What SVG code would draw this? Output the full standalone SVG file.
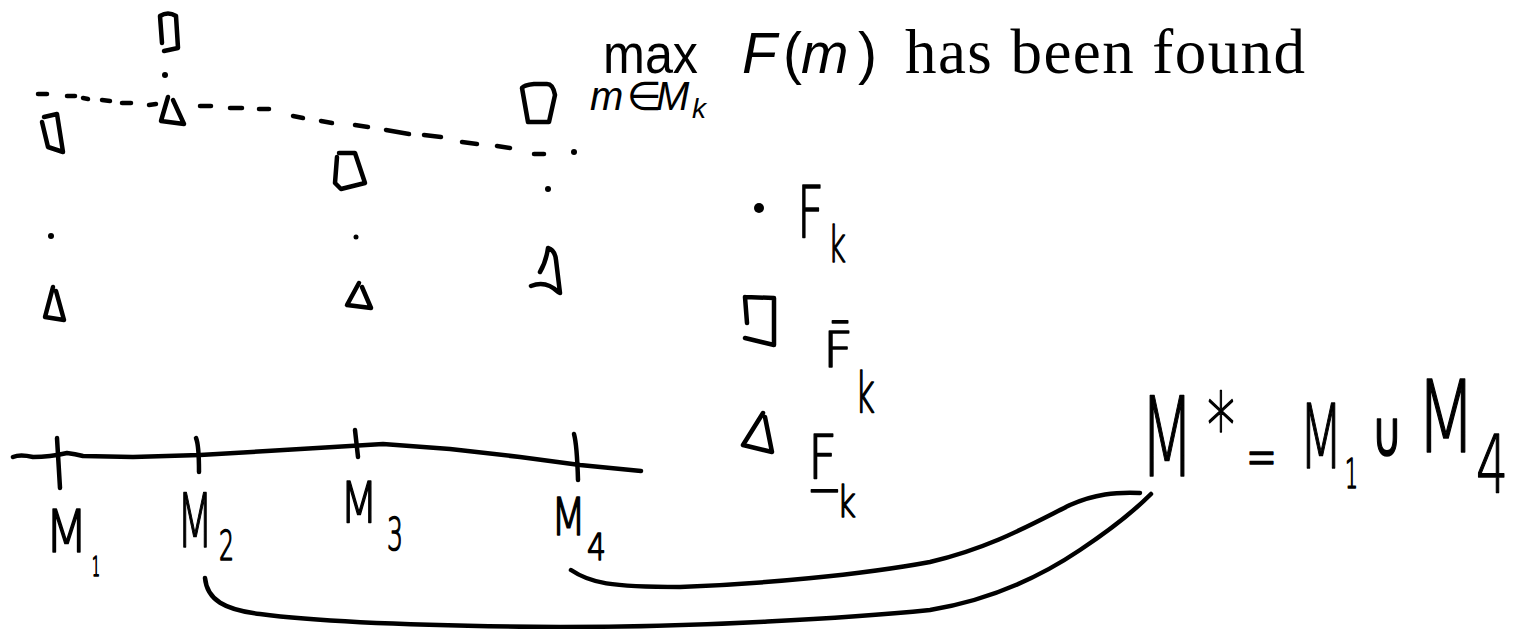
<svg xmlns="http://www.w3.org/2000/svg" width="1514" height="629" viewBox="0 0 1514 629">
<style>
.ink{fill:none;stroke:#000;stroke-width:4.5;stroke-linecap:round;stroke-linejoin:round}
.dot{fill:#000}
.hand{font-family:"DejaVu Sans","Liberation Sans",sans-serif;font-weight:200;fill:#000;stroke:#000;stroke-width:1.6;stroke-linejoin:round}
.sans{font-family:"Liberation Sans","DejaVu Sans",sans-serif;fill:#000}
.serif{font-family:"Liberation Serif","DejaVu Serif",serif;fill:#000}
.it{font-style:italic}
</style>
<rect width="1514" height="629" fill="#fff"/>

<g id="title">
  <text class="sans" x="603" y="73" font-size="55" textLength="95" lengthAdjust="spacingAndGlyphs">max</text>
  <text class="sans" y="73" font-size="57"><tspan class="it" x="742">F</tspan><tspan x="783">(</tspan><tspan class="it" x="801">m</tspan><tspan x="858">)</tspan></text>
  <text class="serif" x="905" y="73" font-size="63" textLength="400" lengthAdjust="spacing">has been found</text>
  <text class="sans" y="110" font-size="40"><tspan class="it" x="590">m</tspan><tspan x="627">∈</tspan><tspan class="it" x="656">M</tspan><tspan class="it" x="692" y="118" font-size="28">k</tspan></text>
</g>

<g id="search-line">
  <line class="ink" x1="38" y1="94" x2="47" y2="94"/>
  <line class="ink" x1="67" y1="96" x2="75" y2="96"/>
  <line class="ink" x1="83" y1="98" x2="88" y2="99"/>
  <line class="ink" x1="102" y1="100" x2="110" y2="101"/>
  <line class="ink" x1="122" y1="103" x2="131" y2="103"/>
  <line class="ink" x1="149" y1="105" x2="156" y2="104"/>
  <line class="ink" x1="200" y1="106" x2="211" y2="106"/>
  <line class="ink" x1="230" y1="108" x2="242" y2="108"/>
  <line class="ink" x1="259" y1="109" x2="269" y2="109"/>
  <line class="ink" x1="293" y1="116" x2="303" y2="118"/>
  <line class="ink" x1="321" y1="121" x2="332" y2="123"/>
  <line class="ink" x1="355" y1="125" x2="368" y2="127"/>
  <line class="ink" x1="386" y1="130" x2="409" y2="134"/>
  <line class="ink" x1="424" y1="135" x2="441" y2="137"/>
  <line class="ink" x1="462" y1="142" x2="477" y2="144"/>
  <line class="ink" x1="497" y1="146" x2="510" y2="148"/>
  <line class="ink" x1="534" y1="154" x2="544" y2="154"/>
  <circle class="dot" cx="574" cy="152" r="3"/>
</g>

<g id="point-m1">
  <path class="ink" d="M44,117 L57,114 L63,152 L48,147 L42,122"/>
  <circle class="dot" cx="51" cy="236" r="3"/>
  <path class="ink" d="M53,287 L45,317 L64,320 L56,291"/>
</g>

<g id="point-m2">
  <path class="ink" d="M162,43 L160,16 Q168,11 176,16 L178,48 L164,51"/>
  <circle class="dot" cx="165" cy="75" r="3"/>
  <path class="ink" d="M168,97 L161,121 L184,124 L173,100"/>
</g>

<g id="point-m3">
  <path class="ink" d="M339,153 L355,153 L365,183 L341,189 L335,183 L337,157"/>
  <circle class="dot" cx="356" cy="237" r="2.5"/>
  <path class="ink" d="M359,283 L347,305 L371,308 L362,287"/>
</g>

<g id="point-m4">
  <path class="ink" d="M522,88 L528,122 L549,122 L555,95 Q553,84 547,84 L534,84 Q524,85 522,88"/>
  <circle class="dot" cx="548" cy="189" r="3"/>
  <path class="ink" d="M540,272 Q546,262 548,248 Q555,250 556,260 L560,293 M531,286 Q546,280 558,292"/>
</g>

<g id="axis">
  <path class="ink" d="M13,457 Q20,454 33,457 Q50,457 67,453 Q75,454 83,456 L133,457 L200,455 L267,451 L317,448 L383,444 L450,449 L520,457 L580,465 L641,471"/>
  <line class="ink" x1="57" y1="438" x2="60" y2="488"/>
  <path class="ink" d="M196,438 Q199,445 199,472"/>
  <line class="ink" x1="355" y1="430" x2="358" y2="457"/>
  <path class="ink" d="M574,434 Q577,445 578,480"/>
</g>

<g id="label-m1">
  <text class="hand" x="45" y="552" font-size="58" textLength="43" lengthAdjust="spacingAndGlyphs">M</text>
  <text class="hand" x="92" y="576" font-size="26" textLength="8" lengthAdjust="spacingAndGlyphs">1</text>
</g>
<g id="label-m2">
  <text class="hand" x="177" y="547" font-size="74" textLength="36" lengthAdjust="spacingAndGlyphs">M</text>
  <text class="hand" x="219" y="560" font-size="40" textLength="15" lengthAdjust="spacingAndGlyphs">2</text>
</g>
<g id="label-m3">
  <text class="hand" x="340" y="523" font-size="57" textLength="38" lengthAdjust="spacingAndGlyphs">M</text>
  <text class="hand" x="387" y="550" font-size="44" textLength="16" lengthAdjust="spacingAndGlyphs">3</text>
</g>
<g id="label-m4">
  <text class="hand" x="551" y="535" font-size="51" textLength="35" lengthAdjust="spacingAndGlyphs">M</text>
  <text class="hand" x="587" y="560" font-size="38" textLength="19" lengthAdjust="spacingAndGlyphs">4</text>
</g>

<g id="legend-f">
  <circle class="dot" cx="759" cy="208" r="5"/>
  <text class="hand" x="797" y="237" font-size="72" textLength="27" lengthAdjust="spacingAndGlyphs">F</text>
  <text class="hand" x="828" y="262" font-size="50" textLength="18" lengthAdjust="spacingAndGlyphs">k</text>
</g>
<g id="legend-upper">
  <path class="ink" d="M745,297 L774,298 L774,345 L745,338 M745,297 L747,323"/>
  <text class="hand" x="823" y="367" font-size="50" textLength="30" lengthAdjust="spacingAndGlyphs">F̄</text>
  <text class="hand" x="855" y="412" font-size="55" textLength="20" lengthAdjust="spacingAndGlyphs">k</text>
</g>
<g id="legend-lower">
  <path class="ink" d="M763,413 L743,445 L772,452 L765,417"/>
  <text class="hand" x="808" y="478" font-size="60" textLength="29" lengthAdjust="spacingAndGlyphs">F̲</text>
  <text class="hand" x="837" y="517" font-size="42" textLength="19" lengthAdjust="spacingAndGlyphs">k</text>
</g>

<g id="result">
  <text class="hand" x="1140" y="476" font-size="110" textLength="54" lengthAdjust="spacingAndGlyphs">M</text>
  <text class="hand" x="1207" y="458" font-size="90" textLength="28" lengthAdjust="spacingAndGlyphs">*</text>
  <text class="hand" x="1246" y="477" font-size="60" textLength="31" lengthAdjust="spacingAndGlyphs">=</text>
  <text class="hand" x="1299" y="468" font-size="89" textLength="44" lengthAdjust="spacingAndGlyphs">M</text>
  <text class="hand" x="1345" y="488" font-size="40" textLength="13" lengthAdjust="spacingAndGlyphs">1</text>
  <text class="hand" x="1372" y="456" font-size="64" textLength="30" lengthAdjust="spacingAndGlyphs">∪</text>
  <text class="hand" x="1416" y="452" font-size="99" textLength="60" lengthAdjust="spacingAndGlyphs">M</text>
  <text class="hand" x="1476" y="493" font-size="80" textLength="32" lengthAdjust="spacingAndGlyphs">4</text>
</g>

<g id="connectors">
  <path class="ink" d="M205,578 C207,600 225,610 260,614 C320,622 420,626 560,627 C700,627 850,618 930,610 C990,600 1040,577 1080,550 C1110,530 1135,510 1151,494"/>
  <path class="ink" d="M571,570 C590,583 610,587 680,587 C760,584 860,575 930,562 C990,548 1030,525 1070,505 C1095,494 1115,492 1140,493"/>
</g>
</svg>
